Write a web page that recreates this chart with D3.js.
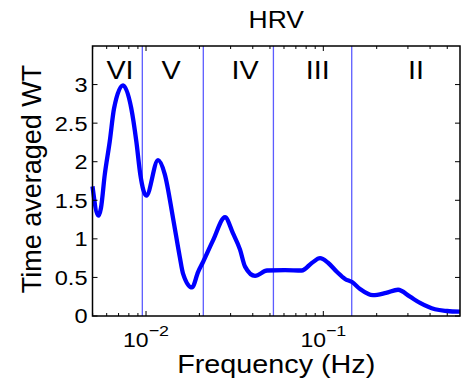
<!DOCTYPE html>
<html>
<head>
<meta charset="utf-8">
<script src="https://cdn.jsdelivr.net/npm/d3@7"></script>
<style>
  body { margin: 0; background: #fff; }
  text { font-family: "Liberation Sans", Arial, sans-serif; fill: #000; }
</style>
</head>
<body>
<div id="chart"></div>
<script>
// data
var freq = [0.00499, 0.00538, 0.00557, 0.00585, 0.00624, 0.0066, 0.00742, 0.00826, 0.00882, 0.00929,
  0.01004, 0.01169, 0.01275, 0.0142, 0.01549, 0.01617, 0.01817, 0.01965, 0.02097, 0.02387,
  0.0279, 0.03095, 0.0339, 0.03618, 0.0412, 0.04814, 0.0608, 0.0755, 0.0864, 0.0958,
  0.1063, 0.1195, 0.1326, 0.1452, 0.1611, 0.1907, 0.2258, 0.2639, 0.3083, 0.3511,
  0.4266, 0.4986, 0.59];
var power = [1.68, 1.30, 1.40, 1.83, 2.26, 2.69, 2.99, 2.69, 2.26, 1.83,
  1.56, 2.02, 1.84, 1.27, 0.77, 0.55, 0.37, 0.57, 0.70, 0.98,
  1.28, 1.07, 0.86, 0.64, 0.52, 0.59, 0.595, 0.59, 0.69, 0.75,
  0.69, 0.57, 0.48, 0.44, 0.35, 0.27, 0.30, 0.34, 0.25, 0.17,
  0.087, 0.065, 0.056];
var bandEdges = [0.00953, 0.02104, 0.0523, 0.1446];
var bandNames = ["VI", "V", "IV", "III", "II"];
var bandLabelFreq = [0.00713, 0.01383, 0.03618, 0.0930, 0.3333];
var yTicks = [0, 0.5, 1, 1.5, 2, 2.5, 3];
var xMajor = [0.01, 0.1];

var svgWidth = 461, svgHeight = 383;
var margin = { top: 46, right: 1, bottom: 67, left: 92.5 };
var width = svgWidth - margin.left - margin.right;
var height = svgHeight - margin.top - margin.bottom;
var stretch = 1.15;

var svg = d3.select("#chart").append("svg")
  .attr("width", svgWidth)
  .attr("height", svgHeight);
var g = svg.append("g")
  .attr("transform", `translate(${margin.left}, ${margin.top})`);

var x = d3.scaleLog().domain([0.00499, 0.59]).range([0, width]);
var y = d3.scaleLinear().domain([0, 3.5]).range([height, 0]);

// band dividers
g.selectAll(".band")
  .data(bandEdges)
  .enter().append("line")
  .attr("x1", d => x(d)).attr("x2", d => x(d))
  .attr("y1", 0).attr("y2", height)
  .attr("stroke", "#5c5cff")
  .attr("stroke-width", 1.3);

// curve
var line = d3.line()
  .x((d, i) => x(freq[i]))
  .y(d => y(d))
  .curve(d3.curveMonotoneX);
g.append("path")
  .datum(power)
  .attr("d", line)
  .attr("fill", "none")
  .attr("stroke", "#0000ff")
  .attr("stroke-width", 4.3)
  .attr("stroke-linejoin", "round");

// frame and inward ticks
g.append("rect")
  .attr("width", width).attr("height", height)
  .attr("fill", "none").attr("stroke", "#000").attr("stroke-width", 1.5);

var minor = x.ticks().filter(d => xMajor.indexOf(d) < 0);
minor.forEach(function(d) {
  g.append("line").attr("x1", x(d)).attr("x2", x(d)).attr("y1", height).attr("y2", height - 3)
    .attr("stroke", "#000").attr("stroke-width", 1);
  g.append("line").attr("x1", x(d)).attr("x2", x(d)).attr("y1", 0).attr("y2", 3)
    .attr("stroke", "#000").attr("stroke-width", 1);
});
xMajor.forEach(function(d) {
  g.append("line").attr("x1", x(d)).attr("x2", x(d)).attr("y1", height).attr("y2", height - 5)
    .attr("stroke", "#000").attr("stroke-width", 1);
  g.append("line").attr("x1", x(d)).attr("x2", x(d)).attr("y1", 0).attr("y2", 5)
    .attr("stroke", "#000").attr("stroke-width", 1);
});
yTicks.forEach(function(d) {
  g.append("line").attr("x1", 0).attr("x2", 5).attr("y1", y(d)).attr("y2", y(d))
    .attr("stroke", "#000").attr("stroke-width", 1);
  g.append("line").attr("x1", width).attr("x2", width - 5).attr("y1", y(d)).attr("y2", y(d))
    .attr("stroke", "#000").attr("stroke-width", 1);
});

// y tick labels
g.selectAll(".ylab")
  .data(yTicks)
  .enter().append("text")
  .attr("transform", d => `translate(-5, ${y(d)}) scale(${stretch},1)`)
  .attr("dy", "0.36em")
  .attr("text-anchor", "end")
  .style("font-size", "20.5px")
  .text(d => d);

// x tick labels 10^n
xMajor.forEach(function(d) {
  var t = g.append("text")
    .attr("transform", `translate(${x(d)}, ${height + 31}) scale(${stretch},1)`)
    .attr("text-anchor", "middle")
    .style("font-size", "20px");
  t.append("tspan").text("10");
  t.append("tspan").attr("dy", -11).style("font-size", "15.5px")
    .text("\u2212" + Math.round(-Math.log10(d)));
});

// band labels
g.selectAll(".bname")
  .data(bandNames)
  .enter().append("text")
  .attr("transform", (d, i) => `translate(${x(bandLabelFreq[i])}, 33) scale(${stretch},1)`)
  .attr("text-anchor", "middle")
  .style("font-size", "25px")
  .text(d => d);

// title and axis labels
svg.append("text")
  .attr("transform", `translate(${margin.left + width / 2}, 28) scale(${stretch},1)`)
  .attr("text-anchor", "middle")
  .style("font-size", "23px")
  .text("HRV");

svg.append("text")
  .attr("transform", `translate(${margin.left + width / 2}, 373) scale(${stretch},1)`)
  .attr("text-anchor", "middle")
  .style("font-size", "25px")
  .text("Frequency (Hz)");

svg.append("text")
  .attr("transform", `translate(41, ${margin.top + height / 2 - 2}) rotate(-90)`)
  .attr("text-anchor", "middle")
  .style("font-size", "27px")
  .text("Time averaged WT");
</script>
</body>
</html>
